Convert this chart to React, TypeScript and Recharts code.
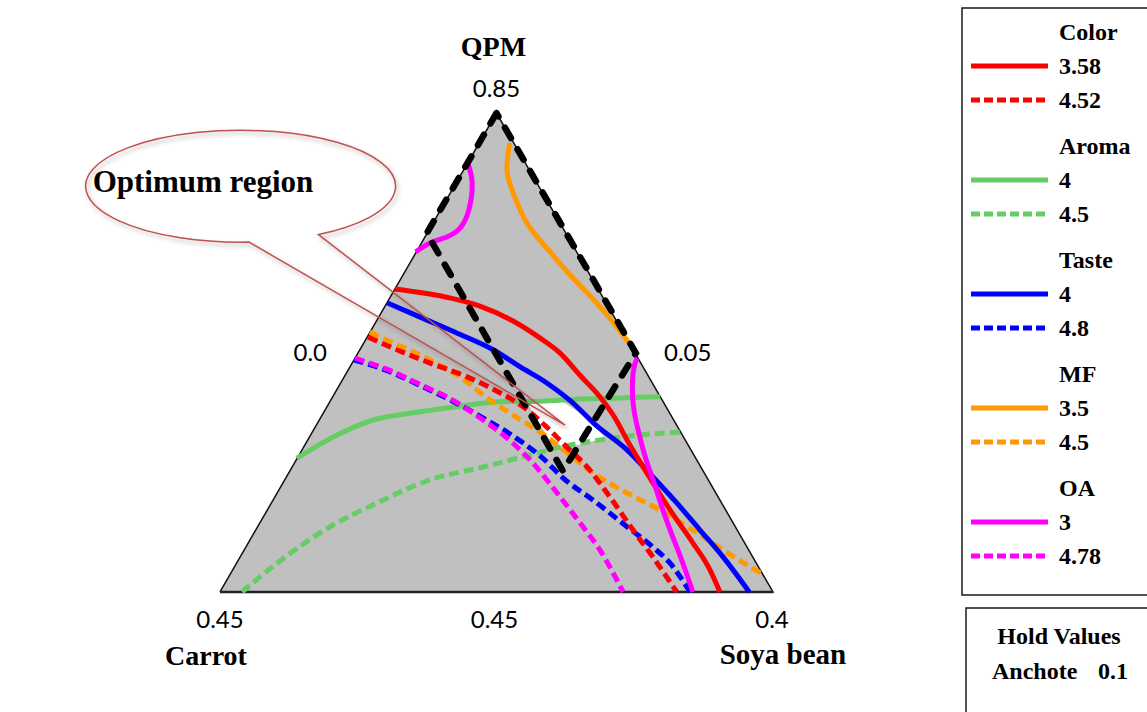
import React from "react";
import { ComposedChart, Area, Line, XAxis, YAxis, ReferenceDot } from "recharts";

// Chart units: triangle base runs 0..100, apex at (50, 86.6)
type Pt = [number, number];

const triangle: Pt[] = [[0, 0], [50, 86.6], [100, 0]];
const constraintRegion: Pt[] = [[50, 86.6], [37.4, 64.9], [62.0, 21.9], [75.2, 43.2], [50, 86.6]];

// white optimum area (x, lower, upper)
const optimumX = [55.5, 59.7, 62.0, 66.0, 69.6];
const optimumLow = [34.2, 27.3, 26.2, 26.8, 28.0];
const optimumHigh = [34.2, 34.4, 34.4, 31.8, 28.0];

// contour lines
const colorLow: Pt[] = [[31.6, 54.8], [41.0, 53.3], [47.0, 51.7], [53.0, 49.0], [57.9, 45.9], [61.5, 43.2], [65.1, 39.2], [68.7, 35.3], [71.4, 31.5], [73.6, 27.5], [77.2, 21.5], [81.4, 14.8], [85.5, 8.9], [88.6, 4.0], [90.4, 0]];
const colorHigh: Pt[] = [[26.8, 46.1], [32.0, 43.8], [38.0, 41.4], [44.7, 38.9], [50.1, 36.3], [54.8, 33.5], [59.1, 29.8], [62.7, 26.2], [66.4, 22.6], [70.5, 17.2], [74.7, 11.2], [78.3, 6.3], [82.6, 0]];
const aromaLow: Pt[] = [[13.9, 24.2], [20.4, 28.0], [27.7, 31.1], [35.6, 32.5], [43.4, 33.6], [50.6, 34.4], [57.9, 34.5], [65.1, 34.9], [72.3, 35.1], [79.6, 35.3]];
const aromaHigh: Pt[] = [[4.0, 0], [10.3, 5.2], [19.9, 11.8], [28.4, 16.1], [38.0, 20.3], [47.6, 22.6], [56.1, 24.8], [61.5, 26.2], [68.7, 27.5], [75.9, 28.4], [83.2, 28.9]];
const tasteLow: Pt[] = [[30.2, 52.3], [36.2, 49.7], [42.9, 46.8], [49.4, 43.8], [54.3, 40.7], [59.1, 37.8], [63.8, 34.2], [67.5, 30.6], [73.6, 25.7], [78.3, 20.8], [82.6, 16.1], [86.8, 11.2], [91.0, 6.3], [95.7, 0]];
const tasteHigh: Pt[] = [[24.2, 42.0], [31.3, 39.6], [36.7, 37.1], [42.1, 34.5], [47.0, 31.8], [53.0, 28.2], [57.9, 24.6], [62.4, 20.3], [67.5, 16.6], [73.6, 11.8], [78.3, 8.1], [81.4, 5.2], [85.0, 0]];
const mfLow: Pt[] = [[52.4, 81.2], [51.9, 76.3], [53.0, 72.2], [55.5, 66.7], [59.1, 62.2], [62.7, 58.0], [66.4, 54.1], [70.5, 49.5], [74.0, 45.0]];
const mfHigh: Pt[] = [[27.1, 47.0], [32.0, 44.7], [38.0, 42.0], [43.4, 38.9], [48.3, 35.1], [53.0, 32.0], [57.9, 28.9], [61.5, 26.2], [67.5, 21.5], [73.6, 17.9], [79.6, 14.8], [85.5, 11.2], [91.7, 7.1], [98.0, 3.3]];
const oaLowTop: Pt[] = [[44.8, 77.6], [45.6, 74.0], [45.0, 69.1], [43.4, 65.8], [41.0, 64.2], [38.0, 63.1], [35.4, 61.5]];
const oaLowRight: Pt[] = [[75.4, 42.3], [74.7, 39.6], [74.7, 34.2], [75.6, 29.3], [76.9, 24.4], [78.3, 20.3], [80.1, 14.8], [81.9, 9.9], [83.7, 5.2], [85.5, 0]];
const oaHigh: Pt[] = [[24.4, 42.3], [31.3, 39.8], [36.7, 37.3], [42.1, 34.7], [47.0, 31.5], [53.0, 26.9], [56.6, 23.3], [61.5, 17.2], [65.1, 12.5], [68.7, 7.6], [72.9, 0]];

const responses = ["Color", "Aroma", "Taste", "MF", "OA"];
const levels = [["3.58", "4.52"], ["4", "4.5"], ["4", "4.8"], ["3.5", "4.5"], ["3", "4.78"]];
const colors = ["#ff0000", "#66cc66", "#0000ff", "#ff9900", "#ff00ff"];

const vertexNames = ["QPM", "Carrot", "Soya bean"];
const vertexValues = ["0.85", "0.45", "0.4"];
const edgeValues = ["0.0", "0.05", "0.45"]; // left side, right side, base

const holdName = "Anchote";
const holdValue = "0.1";

const W = 1147;
const H = 712;
const X_DOMAIN: [number, number] = [-39.78, 167.63];
const Y_DOMAIN: [number, number] = [-21.7, 107.05];

const rows = (pts: Pt[]) => pts.map(([x, y]) => ({ x, y }));

// curves that turn back on x get a natural spline, the rest monotoneX
const contours = [
  { pts: aromaHigh, c: 1, dashed: true, curve: "monotoneX" },
  { pts: aromaLow, c: 1, dashed: false, curve: "monotoneX" },
  { pts: mfLow, c: 3, dashed: false, curve: "natural" },
  { pts: mfHigh, c: 3, dashed: true, curve: "monotoneX" },
  { pts: tasteHigh, c: 2, dashed: true, curve: "monotoneX" },
  { pts: colorHigh, c: 0, dashed: true, curve: "monotoneX" },
  { pts: tasteLow, c: 2, dashed: false, curve: "monotoneX" },
  { pts: colorLow, c: 0, dashed: false, curve: "monotoneX" },
  { pts: oaHigh, c: 4, dashed: true, curve: "monotoneX" },
  { pts: oaLowTop, c: 4, dashed: false, curve: "natural" },
  { pts: oaLowRight, c: 4, dashed: false, curve: "natural" },
];

const serif = "'Times New Roman', 'Liberation Serif', serif";
const sans = "Lato, 'Open Sans', sans-serif";

const mid = (a: Pt, b: Pt): Pt => [(a[0] + b[0]) / 2, (a[1] + b[1]) / 2];

const labels: { at: Pt; text: string; dx: number; dy: number; bold: boolean; size: number }[] = [
  { at: triangle[1], text: vertexNames[0], dx: -3, dy: -57, bold: true, size: 28 },
  { at: triangle[1], text: vertexValues[0], dx: 0, dy: -16, bold: false, size: 24 },
  { at: triangle[0], text: vertexValues[1], dx: 0, dy: 36, bold: false, size: 24 },
  { at: triangle[0], text: vertexNames[1], dx: -14, dy: 73, bold: true, size: 28 },
  { at: triangle[2], text: vertexValues[2], dx: -1, dy: 36, bold: false, size: 24 },
  { at: triangle[2], text: vertexNames[2], dx: 10, dy: 72, bold: true, size: 29 },
  { at: mid(triangle[0], triangle[1]), text: edgeValues[0], dx: -48, dy: 8, bold: false, size: 24 },
  { at: mid(triangle[1], triangle[2]), text: edgeValues[1], dx: 53, dy: 8, bold: false, size: 24 },
  { at: mid(triangle[0], triangle[2]), text: edgeValues[2], dx: -2, dy: 36, bold: false, size: 24 },
];

const calloutCenter: Pt = [3.8, 73.4];

const Callout = (p: any) => {
  const { cx, cy } = p;
  const rx = 155;
  const ry = 56;
  const d = `M ${cx + 77.5} ${cy + 48.5} A ${rx} ${ry} 0 1 0 ${cx + 8} ${cy + 56} L ${cx + 324} ${cy + 239} Z`;
  return (
    <g>
      <defs>
        <filter id="calloutShadow" x="-20%" y="-20%" width="140%" height="160%">
          <feDropShadow dx="2" dy="3" stdDeviation="2" floodColor="#000" floodOpacity="0.3" />
        </filter>
      </defs>
      <path d={d} fill="none" stroke="#c0504d" strokeWidth={1.5} filter="url(#calloutShadow)" />
      <text x={cx - 38} y={cy + 6} textAnchor="middle" fontFamily={serif} fontWeight="bold" fontSize={31} fill="#000">
        Optimum region
      </text>
    </g>
  );
};

function LegendBox() {
  const ox = 940;
  const fs = 24;
  return (
    <svg width={W - ox} height={H} style={{ position: "absolute", left: ox, top: 0 }}>
      <rect x={22} y={8} width={260} height={587} fill="#fff" stroke="#1a1a1a" strokeWidth={1.5} />
      {responses.map((name, i) => {
        const top = 32 + i * 114;
        return (
          <g key={name}>
            <text x={119} y={top + 8} fontFamily={serif} fontWeight="bold" fontSize={fs}>{name}</text>
            {levels[i].map((lv, j) => {
              const y = top + 34 * (j + 1);
              return (
                <g key={lv + j}>
                  <line x1={31} x2={108} y1={y} y2={y} stroke={colors[i]} strokeWidth={5} strokeDasharray={j === 1 ? "9 4" : undefined} />
                  <text x={119} y={y + 8} fontFamily={serif} fontWeight="bold" fontSize={fs}>{lv}</text>
                </g>
              );
            })}
          </g>
        );
      })}
      <rect x={26} y={608} width={260} height={200} fill="#fff" stroke="#1a1a1a" strokeWidth={1.5} />
      <text x={119} y={644} textAnchor="middle" fontFamily={serif} fontWeight="bold" fontSize={fs}>Hold Values</text>
      <text x={52} y={679} fontFamily={serif} fontWeight="bold" fontSize={fs}>{holdName}</text>
      <text x={158} y={679} fontFamily={serif} fontWeight="bold" fontSize={fs}>{holdValue}</text>
    </svg>
  );
}

export default function App() {
  const optimumRows = optimumX.map((x, i) => ({ x, r: [optimumLow[i], optimumHigh[i]] }));
  return (
    <div style={{ position: "absolute", left: 0, top: 0, width: W, height: H, background: "#fff" }}>
      <ComposedChart width={W} height={H} margin={{ top: 0, right: 0, bottom: 0, left: 0 }}>
        <XAxis type="number" dataKey="x" domain={X_DOMAIN} hide allowDataOverflow />
        <YAxis type="number" domain={Y_DOMAIN} hide allowDataOverflow />
        <Area data={rows(triangle)} dataKey="y" type="linear" baseValue={0} fill="#c0c0c0" fillOpacity={1} stroke="none" dot={false} activeDot={false} isAnimationActive={false} />
        <Area data={optimumRows} dataKey="r" type="linear" fill="#ffffff" fillOpacity={1} stroke="none" dot={false} activeDot={false} isAnimationActive={false} />
        <Line data={rows([triangle[0], triangle[1], triangle[2], triangle[0]])} dataKey="y" type="linear" stroke="#111" strokeWidth={1.5} strokeLinejoin="miter" dot={false} activeDot={false} isAnimationActive={false} />
        <Line data={rows([triangle[0], triangle[2]])} dataKey="y" type="linear" stroke="#222" strokeWidth={2.5} dot={false} activeDot={false} isAnimationActive={false} />
        {contours.map((s, i) => (
          <Line
            key={i}
            data={rows(s.pts)}
            dataKey="y"
            type={s.curve as any}
            stroke={colors[s.c]}
            strokeWidth={5}
            strokeDasharray={s.dashed ? "10 5" : undefined}
            dot={false}
            activeDot={false}
            isAnimationActive={false}
          />
        ))}
        <Line data={rows(constraintRegion)} dataKey="y" type="linear" stroke="#000" strokeWidth={6.5} strokeDasharray="12 13" strokeLinecap="round" dot={false} activeDot={false} isAnimationActive={false} />
        <ReferenceDot x={calloutCenter[0]} y={calloutCenter[1]} r={0} shape={(p: any) => <Callout {...p} />} />
        {labels.map((l, i) => (
          <ReferenceDot
            key={"lb" + i}
            x={l.at[0]}
            y={l.at[1]}
            r={0}
            shape={(p: any) => (
              <text x={p.cx + l.dx} y={p.cy + l.dy} textAnchor="middle" fontFamily={l.bold ? serif : sans} fontWeight={l.bold ? "bold" : "normal"} fontSize={l.size} fill="#000">
                {l.text}
              </text>
            )}
          />
        ))}
      </ComposedChart>
      <LegendBox />
    </div>
  );
}
